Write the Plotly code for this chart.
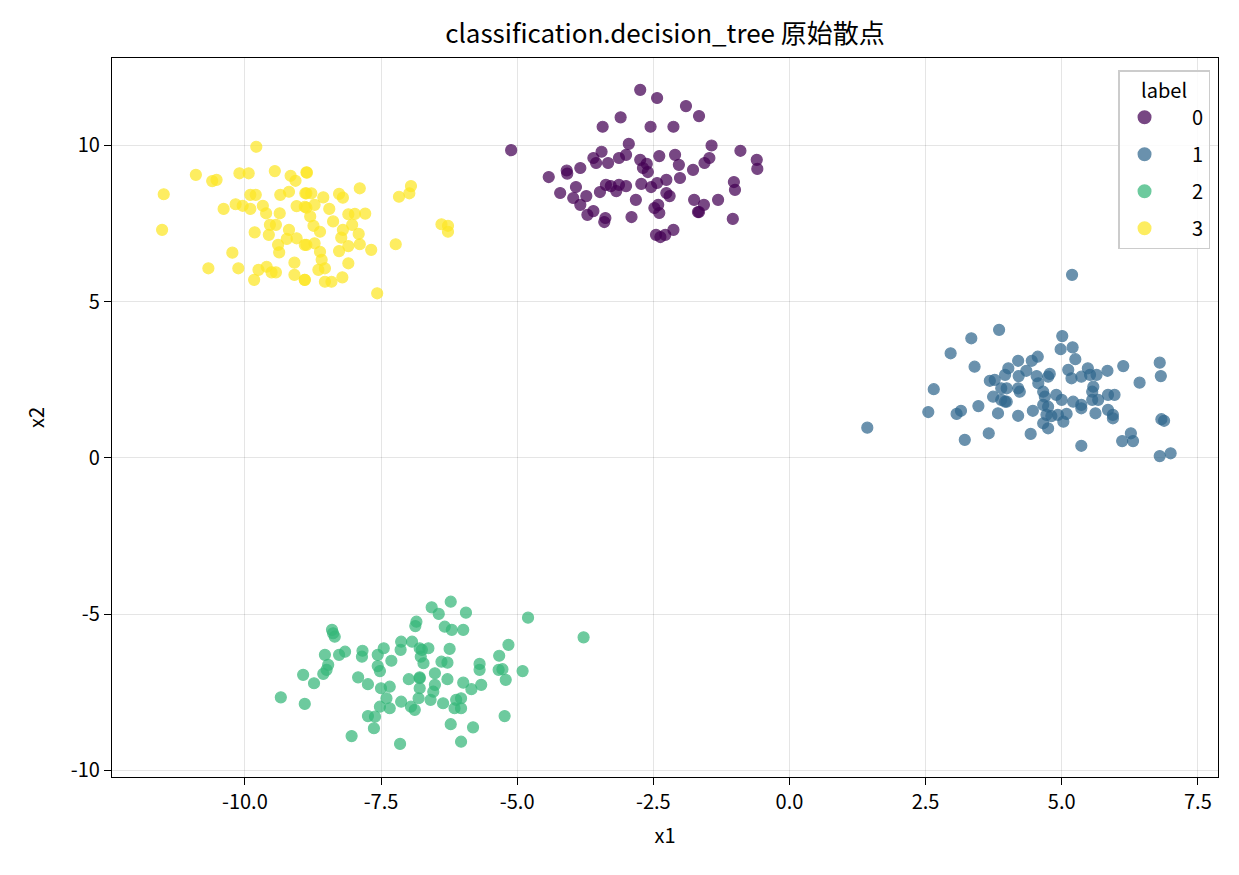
import plotly.graph_objects as go

labels = ["0", "1", "2", "3"]
colors = ["#440154", "#31688e", "#35b779", "#fde725"]

x0 = [-5.11, -2.74, -2.43, -1.9, -1.66, -3.1, -3.43, -2.55, -2.13, -0.9, -0.6, -0.59, -1.43, -2.95, -3.45,
      -4.42, -4.09, -4.08, -3.84, -3.6, -3.55, -3.33, -3.13, -3.0, -2.74, -2.62, -2.39, -2.1, -2.03, -1.77,
      -1.56, -1.47, -4.21, -3.92, -3.73, -3.48, -3.37, -3.28, -3.13, -3.0, -2.72, -2.54, -2.43, -2.26, -2.01,
      -2.2, -1.75, -1.57, -1.31, -1.02, -1.0, -1.04, -1.68, -1.66, -2.39, -2.48, -2.9, -3.4, -3.38, -3.71,
      -3.84, -3.97, -3.6, -2.28, -2.37, -2.13, -2.45, -2.82, -3.18, -2.69, -2.6, -2.26, -2.41]
y0 = [9.85, 11.78, 11.52, 11.26, 10.94, 10.9, 10.6, 10.6, 10.6, 9.83, 9.54, 9.25, 10.0, 10.05, 9.8,
      8.99, 9.2, 9.1, 9.28, 9.6, 9.44, 9.44, 9.6, 9.7, 9.54, 9.41, 9.66, 9.7, 9.38, 9.22,
      9.44, 9.6, 8.48, 8.67, 8.38, 8.51, 8.74, 8.7, 8.74, 8.7, 8.77, 8.67, 8.8, 8.9, 8.96,
      8.38, 8.26, 8.1, 8.26, 8.83, 8.58, 7.65, 7.87, 7.87, 7.84, 8.0, 7.71, 7.55, 7.68, 7.78,
      8.1, 8.32, 7.9, 7.14, 7.07, 7.3, 7.14, 8.26, 8.54, 9.28, 9.15, 8.48, 8.1]

x1 = [1.43, 3.85, 3.34, 2.96, 3.4, 2.65, 2.55, 3.07, 3.15, 3.47, 3.22, 3.66, 3.68, 3.77, 3.96,
      4.02, 3.89, 3.74, 3.89, 3.83, 3.96, 5.19, 5.01, 4.98, 5.2, 5.25, 4.2, 4.45, 4.56, 4.35,
      4.21, 4.54, 4.75, 4.78, 4.57, 4.2, 4.23, 3.99, 3.99, 4.66, 4.69, 4.9, 5.0, 4.66, 4.75,
      4.47, 4.2, 4.72, 4.81, 4.93, 5.09, 4.66, 4.75, 5.03, 4.43, 5.12, 5.18, 5.36, 5.48, 5.52,
      5.64, 5.84, 6.13, 5.58, 5.56, 5.21, 5.36, 5.36, 5.56, 5.67, 5.85, 5.97, 5.62, 5.85, 5.94,
      5.94, 5.36, 6.11, 6.27, 6.31, 6.43, 6.8, 6.82, 6.83, 6.88, 6.8, 7.0]
y1 = [0.97, 4.1, 3.83, 3.35, 2.92, 2.2, 1.47, 1.41, 1.51, 1.66, 0.58, 0.79, 2.47, 2.5, 2.66,
      2.87, 2.23, 1.96, 1.86, 1.43, 1.8, 5.86, 3.9, 3.48, 3.54, 3.16, 3.11, 3.11, 3.24, 2.79,
      2.62, 2.62, 2.6, 2.69, 2.39, 2.23, 2.12, 2.23, 1.8, 2.12, 1.96, 2.02, 1.86, 1.7, 1.64,
      1.51, 1.35, 1.38, 1.34, 1.38, 1.41, 1.11, 0.95, 1.16, 0.77, 2.82, 2.55, 2.6, 2.87, 2.66,
      2.66, 2.79, 2.94, 2.28, 2.12, 1.8, 1.7, 1.59, 1.86, 1.86, 2.02, 2.02, 1.43, 1.54, 1.38,
      1.27, 0.39, 0.54, 0.79, 0.54, 2.41, 3.05, 2.62, 1.24, 1.19, 0.06, 0.15]

x2 = [-8.4, -8.38, -8.35, -8.53, -8.27, -8.16, -8.47, -8.5, -8.56, -8.93, -8.73, -9.34, -8.9, -8.04, -7.84,
      -7.85, -7.92, -7.74, -7.56, -7.45, -7.31, -7.56, -7.52, -7.5, -7.34, -7.52, -7.74, -7.61, -7.63, -7.4,
      -7.34, -7.13, -6.93, -7.14, -6.85, -6.87, -6.79, -6.77, -6.99, -6.79, -6.79, -7.13, -6.95, -7.15,
      -6.57, -6.44, -6.22, -5.94, -4.8, -3.78, -6.33, -6.2, -5.99, -6.75, -6.63, -6.24, -6.72, -6.39, -6.28,
      -5.69, -5.69, -5.16, -5.33, -5.34, -5.27, -5.21, -4.9, -6.79, -6.51, -6.51, -6.54, -6.28, -5.99, -5.84,
      -5.66, -6.81, -6.59, -6.36, -6.12, -6.03, -6.15, -6.03, -6.88, -5.23, -6.22, -5.81, -6.03]
y2 = [-5.5, -5.61, -5.72, -6.3, -6.3, -6.2, -6.62, -6.78, -6.91, -6.94, -7.21, -7.66, -7.87, -8.9, -6.17,
      -6.36, -7.02, -7.24, -6.3, -6.09, -6.49, -6.66, -6.82, -7.37, -7.32, -7.96, -8.26, -8.28, -8.65, -7.69,
      -8.01, -5.88, -5.88, -6.14, -5.24, -5.38, -6.09, -6.36, -7.08, -7.02, -7.37, -7.8, -7.96, -9.15,
      -4.78, -4.99, -4.6, -4.95, -5.11, -5.74, -5.4, -5.5, -5.5, -6.14, -6.09, -6.11, -6.57, -6.52, -6.55,
      -6.59, -6.78, -5.98, -6.33, -6.78, -6.76, -7.1, -6.82, -7.05, -6.89, -7.26, -7.48, -7.08, -7.19, -7.4,
      -7.26, -7.69, -7.74, -7.85, -7.74, -7.69, -8.01, -8.01, -8.06, -8.26, -8.52, -8.62, -9.08]

x3 = [-9.79, -10.9, -10.6, -10.52, -10.1, -9.93, -9.45, -9.16, -9.07, -8.87, -11.49, -9.9, -9.8, -9.35, -9.19,
      -8.87, -10.39, -10.17, -10.04, -9.9, -9.67, -9.61, -9.36, -9.05, -8.87, -11.52, -9.82, -9.56, -9.54, -9.43,
      -9.39, -9.37, -9.19, -9.23, -9.05, -8.9, -10.23, -10.67, -10.12, -9.83, -9.75, -9.6, -9.51, -9.43, -9.09,
      -9.09, -8.9, -8.86, -7.89, -7.17, -6.98, -6.95, -8.89, -8.78, -8.56, -8.27, -8.2, -8.9, -8.72, -8.45,
      -8.1, -7.98, -7.79, -8.38, -8.8, -8.74, -8.62, -8.03, -8.2, -7.91, -8.23, -8.87, -8.72, -8.1, -7.89,
      -7.68, -8.27, -8.62, -8.59, -8.1, -8.65, -8.53, -8.21, -8.53, -8.41, -8.9, -7.23, -6.39, -6.27, -6.27, -7.57]
y3 = [9.96, 9.06, 8.86, 8.9, 9.11, 9.11, 9.18, 9.03, 8.87, 9.14, 8.44, 8.42, 8.42, 8.42, 8.52,
      8.47, 7.97, 8.12, 8.07, 7.97, 8.07, 7.83, 7.83, 8.06, 8.01, 7.3, 7.22, 7.14, 7.46, 7.46,
      6.82, 6.58, 7.3, 7.01, 7.03, 6.82, 6.57, 6.07, 6.07, 5.7, 6.02, 6.12, 5.94, 5.94, 6.25,
      5.86, 5.7, 9.13, 8.63, 8.36, 8.47, 8.7, 8.47, 8.47, 8.34, 8.45, 8.33, 8.04, 8.1, 7.97,
      7.8, 7.81, 7.82, 7.57, 7.73, 7.43, 7.24, 7.46, 7.3, 7.17, 7.05, 6.82, 6.87, 6.78, 6.84,
      6.66, 6.62, 6.6, 6.34, 6.23, 6.02, 6.07, 5.78, 5.64, 5.64, 5.7, 6.84, 7.48, 7.43, 7.24, 5.27]

xs = [x0, x1, x2, x3]
ys = [y0, y1, y2, y3]

x_ticks = [-10.0, -7.5, -5.0, -2.5, 0.0, 2.5, 5.0, 7.5]
x_tick_text = ["-10.0", "-7.5", "-5.0", "-2.5", "0.0", "2.5", "5.0", "7.5"]
y_ticks = [-10, -5, 0, 5, 10]
y_tick_text = ["-10", "-5", "0", "5", "10"]

FONT = "Noto Sans CJK SC, Noto Sans, DejaVu Sans, sans-serif"
PAD = "\u00a0" * 5  # spacing so legend labels sit to the right like the reference

fig = go.Figure()
for lab, col, xv, yv in zip(labels, colors, xs, ys):
    fig.add_trace(go.Scatter(
        x=xv, y=yv, mode="markers", name=PAD + lab, legendgroup=lab,
        marker=dict(size=11, color=col, opacity=0.72, line=dict(color=col, width=1.2)),
    ))

axis_common = dict(
    showline=True, linecolor="black", linewidth=1.3, mirror=True,
    ticks="outside", ticklen=7, tickcolor="black", tickwidth=1.3,
    showgrid=True, gridcolor="rgba(0,0,0,0.1)", gridwidth=1,
    zeroline=False, tickfont=dict(size=20, color="black"),
)

fig.update_layout(
    width=1239, height=875,
    paper_bgcolor="white", plot_bgcolor="white",
    font=dict(family=FONT, color="black"),
    margin=dict(l=112, r=21, t=58, b=98),
    title=dict(text="classification.decision_tree 原始散点", x=0.5, xref="paper", xanchor="center",
               y=1 - 34 / 875, yanchor="middle", font=dict(size=26, color="black")),
    xaxis=dict(range=[-12.44, 7.87], tickvals=x_ticks, ticktext=x_tick_text,
               title=dict(text="x1", font=dict(size=20), standoff=14), **axis_common),
    yaxis=dict(range=[-10.21, 12.8], tickvals=y_ticks, ticktext=y_tick_text,
               title=dict(text="x2", font=dict(size=20), standoff=20), **axis_common),
    legend=dict(
        title=dict(text="label", side="top center", font=dict(size=20)),
        x=0.9928, y=0.983, xanchor="right", yanchor="top",
        bordercolor="#cccccc", borderwidth=1.5, bgcolor="rgba(255,255,255,0.85)",
        font=dict(size=20), itemsizing="constant", tracegroupgap=8, traceorder="grouped",
        itemwidth=40,
    ),
    showlegend=True,
)

fig.write_html("out.html")
